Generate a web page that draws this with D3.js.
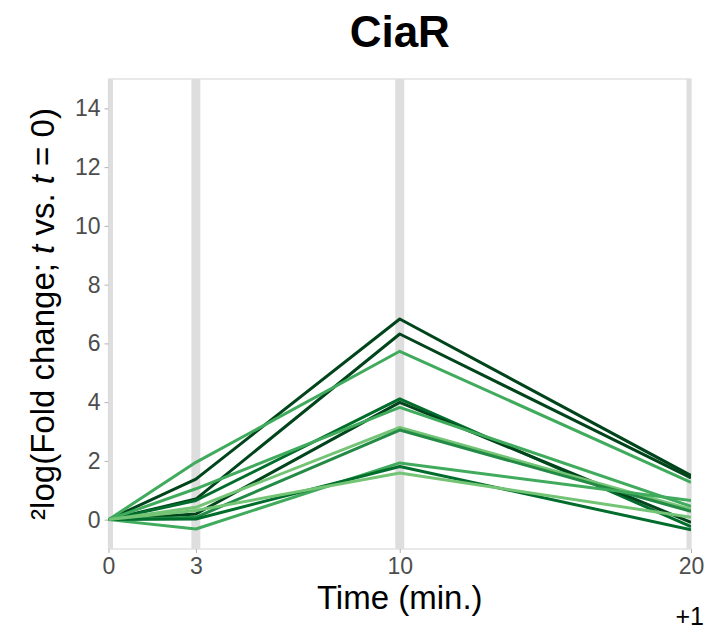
<!DOCTYPE html>
<html>
<head>
<meta charset="utf-8">
<script src="https://cdn.jsdelivr.net/npm/d3@7"></script>
<style>
  body { margin: 0; background: #fff; }
  text { font-family: "Liberation Sans", Arial, sans-serif; }
</style>
</head>
<body>
<svg id="chart" width="713" height="634"></svg>
<script>
// time points (min.)
var timePoints = [0, 3, 10, 20];
var yTicks = [0, 2, 4, 6, 8, 10, 12, 14];

// one profile per gene, value at each time point
var profileValues = [
  [0, 1.38, 6.83, 1.50],
  [0, 0.70, 6.32, 1.42],
  [0, 1.95, 5.73, 1.27],
  [0, 0.65, 4.11, -0.24],
  [0, 0.19, 3.99, -0.09],
  [0, 1.05, 3.82, 0.45],
  [0, 0.42, 3.14, 0.35],
  [0, 0.08, 3.05, 0.28],
  [0, -0.32, 1.93, 0.65],
  [0, 0.02, 1.81, -0.35],
  [0, 0.31, 1.59, 0.08]
];
var profileColors = [
  '#00441b', '#00441b', '#41ab5d', '#006d2c', '#00441b', '#41ab5d',
  '#74c476', '#238b45', '#41ab5d', '#006d2c', '#74c476'
];

var svg = d3.select('#chart');
var panel = { left: 108.5, right: 691, top: 79, bottom: 549 };

var x = d3.scaleLinear().domain([0, 20]).range([panel.left, panel.right]);
var y = d3.scaleLinear().domain([-1, 15]).range([panel.bottom, panel.top]);

svg.append('defs').append('clipPath').attr('id', 'clip')
  .append('rect')
  .attr('x', panel.left).attr('y', panel.top)
  .attr('width', panel.right - panel.left).attr('height', panel.bottom - panel.top);

// panel border
svg.append('rect')
  .attr('x', panel.left).attr('y', panel.top)
  .attr('width', panel.right - panel.left).attr('height', panel.bottom - panel.top)
  .attr('fill', 'none').attr('stroke', '#dadada').attr('stroke-width', 1.2);

// thick grey bars at the sampled time points
svg.append('g').attr('clip-path', 'url(#clip)')
  .selectAll('line').data(timePoints).enter().append('line')
  .attr('x1', function (d) { return x(d); })
  .attr('x2', function (d) { return x(d); })
  .attr('y1', panel.top).attr('y2', panel.bottom)
  .attr('stroke', '#dedede').attr('stroke-width', 9);

// y axis
var yAxis = svg.append('g')
  .attr('transform', 'translate(' + panel.left + ',0)')
  .call(d3.axisLeft(y).tickValues(yTicks).tickSize(4).tickPadding(4));
// x axis
var xAxis = svg.append('g')
  .attr('transform', 'translate(0,' + panel.bottom + ')')
  .call(d3.axisBottom(x).tickValues(timePoints).tickSize(4).tickPadding(5));

[yAxis, xAxis].forEach(function (ax) {
  ax.select('.domain').remove();
  ax.selectAll('.tick line').attr('stroke', '#b3b3b3');
  ax.selectAll('.tick text')
    .attr('fill', '#4d4d4d')
    .style('font-size', '23px')
    .style('font-family', '"Liberation Sans", Arial, sans-serif');
});

// profiles
var line = d3.line()
  .x(function (d, i) { return x(timePoints[i]); })
  .y(function (d) { return y(d); });

svg.append('g').attr('clip-path', 'url(#clip)')
  .selectAll('path').data(profileValues).enter().append('path')
  .attr('d', line)
  .attr('fill', 'none')
  .attr('stroke', function (d, i) { return profileColors[i]; })
  .attr('stroke-width', 3)
  .attr('stroke-linejoin', 'round');

// title
svg.append('text')
  .attr('x', (panel.left + panel.right) / 2).attr('y', 47)
  .attr('text-anchor', 'middle')
  .style('font-size', '44px').style('font-weight', 'bold')
  .text('CiaR');

// x label
svg.append('text')
  .attr('x', (panel.left + panel.right) / 2).attr('y', 609)
  .attr('text-anchor', 'middle')
  .style('font-size', '33px')
  .text('Time (min.)');

// y label with italic t
var yLab = svg.append('text')
  .attr('transform', 'translate(54,' + (panel.top + panel.bottom) / 2 + ') rotate(-90)')
  .attr('text-anchor', 'middle')
  .style('font-size', '33px');
yLab.append('tspan').text('\u00b2log(Fold change; ');
yLab.append('tspan').style('font-style', 'italic').text('t');
yLab.append('tspan').text(' vs. ');
yLab.append('tspan').style('font-style', 'italic').text('t');
yLab.append('tspan').text(' = 0)');

// pseudocount note
svg.append('text')
  .attr('x', 704).attr('y', 625)
  .attr('text-anchor', 'end')
  .style('font-size', '25px')
  .text('+1');
</script>
</body>
</html>
